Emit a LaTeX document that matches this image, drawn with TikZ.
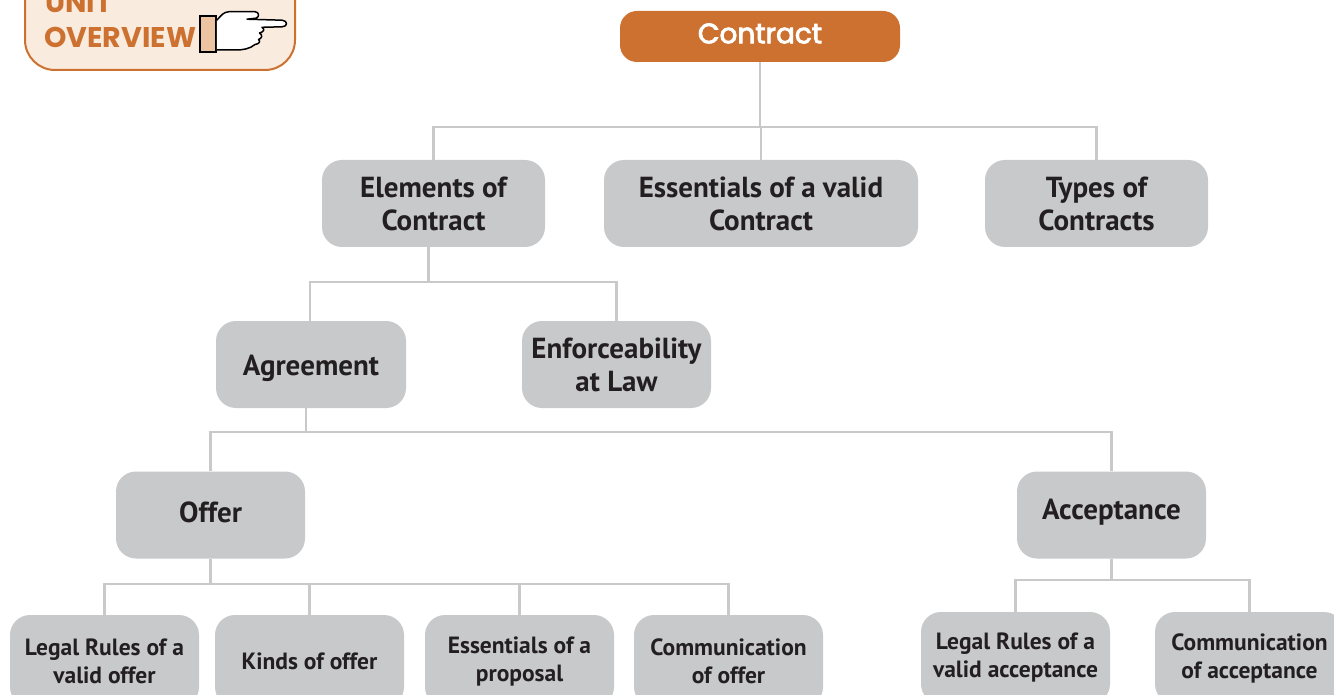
\documentclass[tikz,border=0pt]{standalone}
\usepackage{fontspec}
\newfontfamily\boxfont{PT Sans}
\newfontfamily\titlefont{Poppins}
\newfontfamily\titleboldfont{Poppins}[FakeBold=3]
\definecolor{orng}{HTML}{CD7130}
\definecolor{peach}{HTML}{FAEBDF}
\definecolor{boxgray}{HTML}{C8C9CB}
\definecolor{txt}{HTML}{231F20}
\definecolor{linegray}{HTML}{C9C9C9}
\definecolor{cuff}{HTML}{EDC4A2}
\newcommand{\shiftdown}[2]{\raisebox{-#1}[\height][\depth]{#2}}
\tikzset{
  box/.style={rounded corners=20pt, fill=boxgray, align=center, text=txt, inner sep=0pt,
    font=\boxfont\bfseries\fontsize{29}{33}\selectfont},
  smallbox/.style={box, font=\boxfont\bfseries\fontsize{23.5}{28}\selectfont, minimum width=189pt, minimum height=92pt},
  conn/.style={draw=linegray, line width=2.5pt},
  badgetext/.style={font=\titlefont\bfseries\fontsize{28.5}{40}\selectfont, text=orng, anchor=base west, inner sep=0pt},
}
\begin{document}
\begin{tikzpicture}[x=1pt,y=-1pt]
\useasboundingbox (0,0) rectangle (1334,695);
\clip (0,0) rectangle (1334,695);
% unit overview badge
\node[draw=orng, line width=2pt, fill=peach, rounded corners=30pt, minimum width=270pt, minimum height=120pt, inner sep=0pt] (badge) at (160,10) {};
\node[badgetext] (unit) at (45,13) {UNIT};
\node[badgetext] (overview) at (44,48) {OVERVIEW};
\node[draw=black, line width=1.6pt, fill=cuff, minimum width=16pt, minimum height=36pt, inner sep=0pt] (cuffbox) at (208,34) {};
\draw[line width=1.5pt, line join=round, fill=white]
  (cuffbox.north east) ++(0,5) .. controls (221,16) and (223,12) .. (229,11.7)
  -- (255,11.7) .. controls (259,11.7) and (260,17) .. (256,18.2)
  -- (247,19.2) -- (282,20.2) .. controls (288,20.5) and (288,26.8) .. (282,26.8)
  -- (262,27.3) .. controls (265,29) and (264,32) .. (259.5,33)
  .. controls (263,35) and (262,38.5) .. (258.5,39.5)
  .. controls (261,41.5) and (259,44) .. (255,44.5)
  .. controls (250,49) and (242,50) .. (236,50) -- (217,50);
% title
\node[fill=orng, rounded corners=17pt, minimum width=280pt, minimum height=51pt, inner sep=0pt] (contract) at (760,36.5) {};
\node[text=white, inner sep=0pt, font=\titleboldfont\fontsize{28}{34}\selectfont] (contracttext) at (760,33.5) {Contract};
% level 1
\node[box, minimum width=223pt, minimum height=87pt] (elem) at (433.5,203.5) {Elements of\\Contract};
\node[box, minimum width=314pt, minimum height=87pt] (ess) at (761,203.5) {Essentials of a valid\\Contract};
\node[box, minimum width=223pt, minimum height=87pt] (types) at (1096.5,203.5) {Types of\\Contracts};
% level 2
\node[box, minimum width=190pt, minimum height=87pt] (agree) at (311,364.5) {\shiftdown{4pt}{Agreement}};
\node[box, minimum width=189pt, minimum height=87pt] (enf) at (616.5,364.5) {Enforceability\\at Law};
% level 3
\node[box, minimum width=189pt, minimum height=87pt] (offer) at (210.5,515) {\shiftdown{-3pt}{Offer}};
\node[box, minimum width=189pt, minimum height=87pt] (acc) at (1111.5,515) {\shiftdown{-3pt}{Acceptance}};
% level 4
\node[smallbox] (legal) at (104.5,661) {Legal Rules of a\\valid offer};
\node[smallbox] (kinds) at (309.5,661) {Kinds of offer};
\node[smallbox] (prop) at (519.5,661) {Essentials of a\\proposal};
\node[smallbox] (comm) at (728.5,661) {Communication\\of offer};
\node[smallbox] (legacc) at (1015.5,658) {Legal Rules of a\\valid acceptance};
\node[smallbox] (commacc) at (1249.5,658) {Communication\\of acceptance};
% bus coordinates
\coordinate (b1) at (0,127);
\coordinate (b2) at (0,282);
\coordinate (b3) at (0,432);
\coordinate (b4) at (0,584);
\coordinate (b5) at (0,580);
% connectors
\draw[conn] (contract.south) -- (contract.south |- b1);
\draw[conn] (elem.north) -- (elem.north |- b1) -- (types.north |- b1) -- (types.north);
\draw[conn] (ess.north) -- (ess.north |- b1);
\draw[conn] ([xshift=-5pt]elem.south) -- ([xshift=-5pt]elem.south |- b2);
\draw[conn] ([xshift=-1pt]agree.north) -- ([xshift=-1pt]agree.north |- b2) -- (enf.north |- b2) -- (enf.north);
\draw[conn] ([xshift=-5pt]agree.south) -- ([xshift=-5pt]agree.south |- b3);
\draw[conn] (offer.north) -- (offer.north |- b3) -- (acc.north |- b3) -- (acc.north);
\draw[conn] (offer.south) -- (offer.south |- b4);
\draw[conn] (legal.north) -- (legal.north |- b4) -- (comm.north |- b4) -- (comm.north);
\draw[conn] (kinds.north) -- (kinds.north |- b4);
\draw[conn] (prop.north) -- (prop.north |- b4);
\draw[conn] (acc.south) -- (acc.south |- b5);
\draw[conn] (legacc.north) -- (legacc.north |- b5) -- (commacc.north |- b5) -- (commacc.north);
\end{tikzpicture}
\end{document}
